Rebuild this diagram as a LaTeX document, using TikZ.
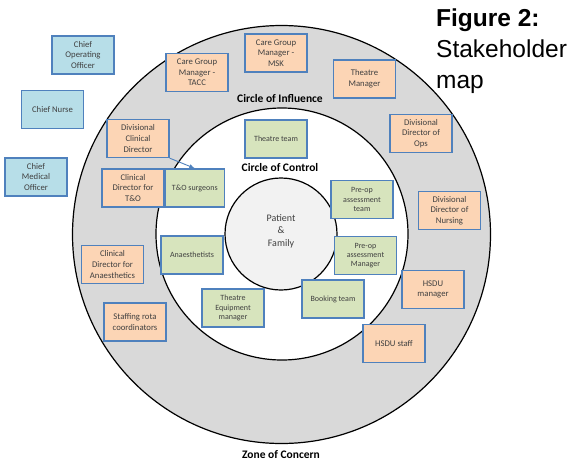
\documentclass[tikz,border=0pt]{standalone}
\usepackage{fontspec}
\setmainfont{Carlito}
\newfontfamily\titlefont{Liberation Sans}
\usepackage{xcolor}
\usetikzlibrary{positioning}
\definecolor{boxblue}{HTML}{4F81BD}
\definecolor{chieffill}{HTML}{B7DEE8}
\definecolor{orgfill}{HTML}{FCD5B5}
\definecolor{ctrlfill}{HTML}{D7E4BD}
\definecolor{ringgrey}{HTML}{D9D9D9}
\definecolor{txtgrey}{HTML}{404040}

\begin{document}
\begin{tikzpicture}[x=1pt,y=-1pt,
  stake/.style={draw=boxblue,line width=1.3pt,minimum width=62pt,minimum height=38pt,
    inner sep=1pt,align=center,text=txtgrey,font=\fontsize{8.7}{10.7}\selectfont},
  chief/.style={stake,fill=chieffill},
  infl/.style={stake,fill=orgfill},
  ctrl/.style={stake,fill=ctrlfill},
  small/.style={font=\fontsize{8}{9.3}\selectfont},
  ringlabel/.style={font=\bfseries\fontsize{11.5}{13}\selectfont}
]
\useasboundingbox (0,0) rectangle (573,461);
% rings
\fill[white] (0,0) rectangle (573,461);
\draw[line width=1.2pt,fill=ringgrey] (281.5,234.5) circle (209);
\draw[line width=1.2pt,fill=white] (282,234) circle (126);
\draw[line width=1.2pt,fill=black!5] (281,234) circle (56);
\node[ringlabel] (influence) at (280,99) {Circle of Influence};
\node[ringlabel] (control) at (280,168) {Circle of Control};
\node[ringlabel,anchor=base] (concern) at (281,458) {Zone of Concern};
\node[align=center,text=txtgrey,font=\fontsize{10}{12.5}\selectfont] (patient) at (281,231) {Patient\\\&\\Family};
% title
\node[anchor=north west,align=left,inner sep=0pt,font=\titlefont\fontsize{24.5}{31}\selectfont] (title) at (436,8.5)
  {\textbf{Figure 2:}\\Stakeholder\\map};
% zone of concern
\node[chief] (coo) at (83,55) {Chief\\Operating\\Officer};
\node[chief] (nurse) at (52.5,109.5) {Chief Nurse};
\node[chief] (cmo) at (36,177) {Chief\\Medical\\Officer};
% circle of influence
\node[infl] (cgtacc) at (197,72.5) {Care Group\\Manager -\\TACC};
\node[infl] (cgmsk) at (276,53) {Care Group\\Manager -\\MSK};
\node[infl] (thmgr) at (364.5,79) {Theatre\\Manager};
\node[infl] (ddops) at (421,133.5) {Divisional\\Director of\\Ops};
\node[infl] (ddnurs) at (449.5,210.5) {Divisional\\Director of\\Nursing};
\node[infl] (hsdumgr) at (433,289.5) {HSDU\\manager};
\node[infl] (hsdustaff) at (394,343.5) {HSDU staff};
\node[infl] (dcd) at (138,138.5) {Divisional\\Clinical\\Director};
\node[infl] (cdto) at (133,188) {Clinical\\Director for\\T\&O};
\node[infl] (cdanaes) at (112.5,264.5) {Clinical\\Director for\\Anaesthetics};
\node[infl] (rota) at (135,322) {Staffing rota\\coordinators};
% circle of control
\node[ctrl,small,right=0pt of cdto,minimum width=59pt] (tosurg) {T\&O surgeons};
\node[ctrl,small] (thteam) at (276,139) {Theatre team};
\node[ctrl,small] (preopteam) at (362,199.5) {Pre-op\\assessment\\team};
\node[ctrl,small] (preopmgr) at (365.5,255.5) {Pre-op\\assessment\\Manager};
\node[ctrl,small] (booking) at (333,299) {Booking team};
\node[ctrl,small] (anaes) at (192,255) {Anaesthetists};
\node[ctrl,small] (thequip) at (233,308) {Theatre\\Equipment\\manager};
\draw[boxblue,line width=0.9pt,-latex] (dcd.south east) -- (tosurg.north);
\end{tikzpicture}
\end{document}
